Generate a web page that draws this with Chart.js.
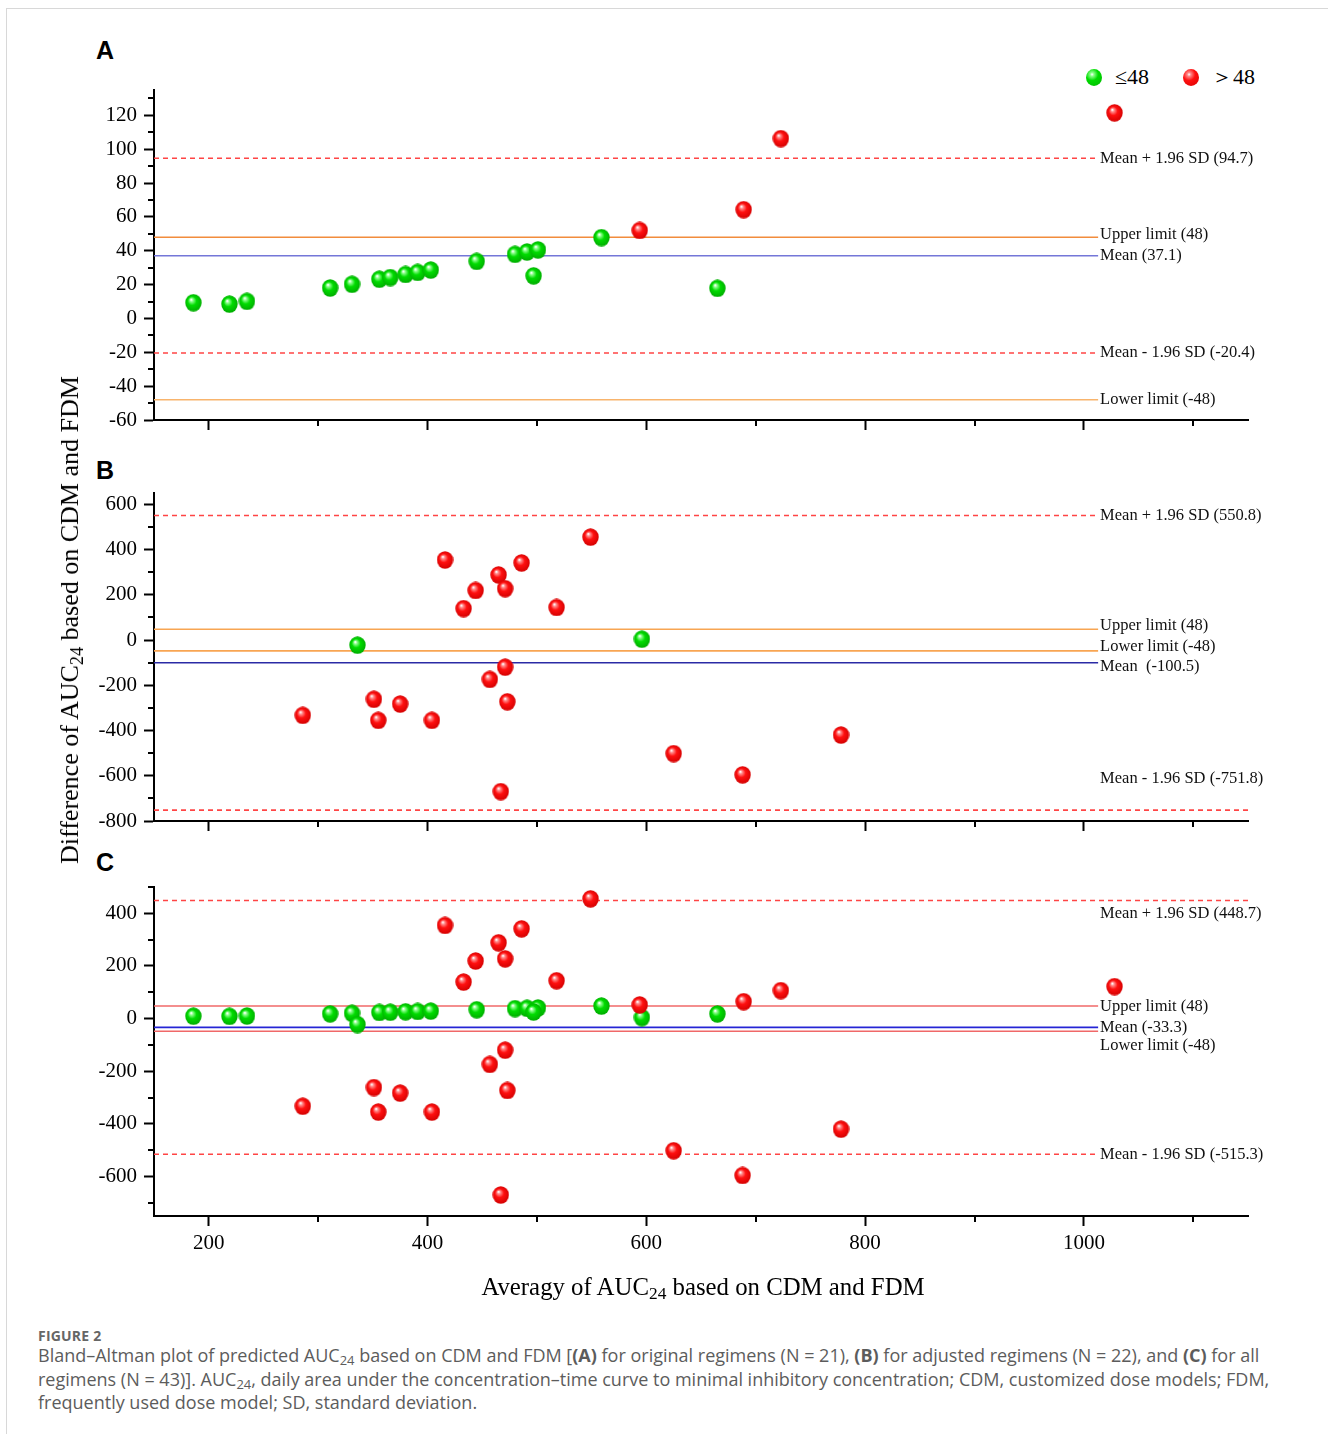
<!DOCTYPE html>
<html>
<head>
<meta charset="utf-8">
<script src="https://cdn.jsdelivr.net/npm/chart.js@4.4.1/dist/chart.umd.min.js"></script>
<style>
  body { margin: 0; background: #fff; }
  #page { position: relative; width: 1328px; height: 1434px; overflow: hidden; background: #fff; }
  #frame { position: absolute; left: 6px; top: 8px; width: 1330px; height: 1440px; border-top: 1px solid #d8d8d8; border-left: 1px solid #d8d8d8; }
  canvas { position: absolute; left: 0; }
  .tag { position: absolute; left: 96px; font: bold 25px/25px "Liberation Sans", Arial, sans-serif; color: #000; }
  .serif { font-family: "Liberation Serif", "Times New Roman", serif; color: #000; }
  #ytitle { position: absolute; left: 70px; top: 620px; transform: translate(-50%, -50%) rotate(-90deg); font-size: 26px; line-height: 30px; white-space: nowrap; }
  #xtitle { position: absolute; left: 703px; top: 1272px; transform: translateX(-50%); font-size: 24.8px; line-height: 30px; white-space: nowrap; }
  sub { font-size: 70%; vertical-align: -0.25em; line-height: 0; }
  .legend { position: absolute; top: 64px; font-size: 22px; line-height: 26px; white-space: nowrap; }
  .ball { position: absolute; width: 16px; height: 17px; border-radius: 50%; }
  .ball.g { background: radial-gradient(circle at 38% 32%, #fff 0, #8f8 12%, #00dc00 40%, #00b400 100%); }
  .ball.r { background: radial-gradient(circle at 38% 32%, #fff 0, #f88 12%, #ff1010 40%, #d80000 100%); }
  #cap-head { position: absolute; left: 38px; top: 1328px; font: 700 14px/16px "Open Sans", sans-serif; color: #666; letter-spacing: 0.2px; }
  #cap { position: absolute; left: 38px; top: 1344px; font: 18px/23.5px "Open Sans", sans-serif; color: #5c5c5c; white-space: nowrap; }
  #cap sub { font-size: 72%; }
</style>
</head>
<body>
<div id="page">
  <div id="frame"></div>
  <div class="tag" style="top:38px">A</div>
  <div class="tag" style="top:458px">B</div>
  <div class="tag" style="top:850px">C</div>

  <span class="ball g" style="left:1086px; top:69px"></span>
  <span class="legend serif" style="left:1115px">≤48</span>
  <span class="ball r" style="left:1183px; top:69px"></span>
  <span class="legend serif" style="left:1211px">＞48</span>

  <canvas id="chartA" width="1328" height="360" style="top:80px"></canvas>
  <canvas id="chartB" width="1328" height="360" style="top:480px"></canvas>
  <canvas id="chartC" width="1328" height="400" style="top:875px"></canvas>

  <div id="ytitle" class="serif">Difference of AUC<sub>24</sub> based on CDM and FDM</div>
  <div id="xtitle" class="serif">Averagy of AUC<sub>24</sub> based on CDM and FDM</div>

  <div id="cap-head">FIGURE 2</div>
  <div id="cap">Bland–Altman plot of predicted AUC<sub>24</sub> based on CDM and FDM [<b>(A)</b> for original regimens (N = 21), <b>(B)</b> for adjusted regimens (N = 22), and <b>(C)</b> for all<br>regimens (N = 43)]. AUC<sub>24</sub>, daily area under the concentration–time curve to minimal inhibitory concentration; CDM, customized dose models; FDM,<br>frequently used dose model; SD, standard deviation.</div>
</div>

<script>
// x axis (shared)
const X_MAJOR = [200, 400, 600, 800, 1000];
const X_MINOR = [300, 500, 700, 900, 1100];

// panel A: original regimens
const A_Y_MAJOR = [-60, -40, -20, 0, 20, 40, 60, 80, 100, 120];
const A_Y_MINOR = [-50, -30, -10, 10, 30, 50, 70, 90, 110, 130];
const A_GREEN = [[186, 9.3], [219, 8.5], [235, 10.1], [311, 18.0], [331, 20.2], [356, 23.2], [366, 24.2],
  [380, 26.0], [391, 27.2], [403, 28.6], [445, 33.7], [480, 37.9], [491, 39.3], [501, 40.5],
  [497, 25.2], [559, 47.8], [665, 17.8]];
const A_RED = [[594, 52.0], [689, 64.3], [723, 106.3], [1028, 121.5]];
const A_LINES = [94.7, 48, 37.1, -20.4, -48];
const A_LABELS = ['Mean + 1.96 SD (94.7)', 'Upper limit (48)', 'Mean (37.1)', 'Mean - 1.96 SD (-20.4)', 'Lower limit (-48)'];

// panel B: adjusted regimens
const B_Y_MAJOR = [-800, -600, -400, -200, 0, 200, 400, 600];
const B_Y_MINOR = [-700, -500, -300, -100, 100, 300, 500];
const B_GREEN = [[336, -22.6], [596, 3.9]];
const B_RED = [[286, -333], [351, -262], [355, -355], [375, -283], [404, -355], [416, 354], [433, 139],
  [444, 219], [465, 288], [471, 227], [486, 341], [471, -120], [457, -174], [473, -273],
  [467, -670], [518, 144], [549, 455], [625, -502], [688, -596], [778, -420]];
const B_LINES = [550.8, 48, -48, -100.5, -751.8];
const B_LABELS = ['Mean + 1.96 SD (550.8)', 'Upper limit (48)', 'Lower limit (-48)', 'Mean  (-100.5)', 'Mean - 1.96 SD (-751.8)'];

// panel C: all regimens
const C_Y_MAJOR = [-600, -400, -200, 0, 200, 400];
const C_Y_MINOR = [-700, -500, -300, -100, 100, 300, 500];
const C_GREEN = A_GREEN.concat(B_GREEN);
const C_RED = A_RED.concat(B_RED);
const C_LINES = [448.7, 48, -33.3, -48, -515.3];
const C_LABELS = ['Mean + 1.96 SD (448.7)', 'Upper limit (48)', 'Mean (-33.3)', 'Lower limit (-48)', 'Mean - 1.96 SD (-515.3)'];

const SERIF = '"Liberation Serif", "Times New Roman", serif';
const LINE_END = 1013;
const DASH_RED = '#ff4545';

function ball(hi, mid, edge) {
  const cv = document.createElement('canvas');
  cv.width = 17; cv.height = 18;
  const g = cv.getContext('2d');
  const grad = g.createRadialGradient(6.2, 5.8, 0.4, 8.5, 9, 9.2);
  grad.addColorStop(0, '#ffffff');
  grad.addColorStop(0.14, hi);
  grad.addColorStop(0.45, mid);
  grad.addColorStop(1, edge);
  g.fillStyle = grad;
  g.beginPath();
  g.ellipse(8.5, 9, 8.2, 8.7, 0, 0, Math.PI * 2);
  g.fill();
  return cv;
}
const GREEN_BALL = ball('#90ff90', '#00dc00', '#00a800');
const RED_BALL = ball('#ff9090', '#ff1010', '#d00000');

const minorTicks = {
  id: 'minorTicks',
  afterDraw(chart, args, opts) {
    const { ctx, chartArea: a, scales: { x, y } } = chart;
    ctx.save();
    ctx.strokeStyle = '#000';
    ctx.lineWidth = 2;
    ctx.beginPath();
    opts.x.forEach(v => {
      const p = Math.round(x.getPixelForValue(v));
      ctx.moveTo(p, a.bottom); ctx.lineTo(p, a.bottom + 6);
    });
    opts.y.forEach(v => {
      const p = Math.round(y.getPixelForValue(v));
      ctx.moveTo(a.left - 6, p); ctx.lineTo(a.left, p);
    });
    ctx.stroke();
    ctx.restore();
  }
};

const refLabels = {
  id: 'refLabels',
  afterDraw(chart, args, opts) {
    const { ctx, scales: { x, y } } = chart;
    ctx.save();
    ctx.font = '16.5px ' + SERIF;
    ctx.fillStyle = '#111';
    ctx.textBaseline = 'middle';
    const px = x.getPixelForValue(LINE_END) + 2;
    opts.values.forEach((v, i) => {
      ctx.fillText(opts.labels[i], px, y.getPixelForValue(v) + opts.dy[i]);
    });
    ctx.restore();
  }
};

function noPad(s) {
  s.paddingTop = 0; s.paddingBottom = 0; s.paddingLeft = 0; s.paddingRight = 0;
}

function makePanel(id, p) {
  const lines = p.lines.map((v, i) => ({
    type: 'line',
    data: [{ x: 150, y: v }, { x: p.full[i] ? 1150 : LINE_END, y: v }],
    borderColor: p.colors[i],
    borderWidth: 1.6,
    borderDash: p.dashed[i] ? [5, 4] : [],
    pointRadius: 0,
    fill: false,
    order: 2
  }));
  const pts = (arr) => arr.map(d => ({ x: d[0], y: d[1] }));
  new Chart(document.getElementById(id), {
    type: 'scatter',
    data: {
      datasets: lines.concat([
        { data: pts(p.green), pointStyle: GREEN_BALL, order: 1 },
        { data: pts(p.red), pointStyle: RED_BALL, order: 0 }
      ])
    },
    options: {
      responsive: false,
      animation: false,
      layout: { padding: { top: p.padTop, right: 80, left: 0, bottom: 0 } },
      plugins: {
        legend: { display: false },
        tooltip: { enabled: false },
        minorTicks: { x: X_MINOR, y: p.yMinor },
        refLabels: { values: p.lines, labels: p.labels, dy: p.dy }
      },
      scales: {
        x: {
          type: 'linear', min: 150, max: 1150,
          afterBuildTicks: s => { s.ticks = X_MAJOR.map(v => ({ value: v })); },
          afterFit: s => { s.height = p.xHeight; noPad(s); },
          ticks: { display: p.showX, color: '#000', font: { family: SERIF, size: 21 }, padding: 5, maxRotation: 0, callback: v => String(v) },
          grid: { drawOnChartArea: false, tickLength: 10, tickWidth: 2, tickColor: '#000' },
          border: { color: '#000', width: 2 }
        },
        y: {
          type: 'linear', min: p.yMin, max: p.yMax,
          afterBuildTicks: s => { s.ticks = p.yMajor.map(v => ({ value: v })); },
          afterFit: s => { s.width = 154; noPad(s); },
          ticks: { color: '#000', font: { family: SERIF, size: 21 }, padding: 7, callback: v => String(v) },
          grid: { drawOnChartArea: false, tickLength: 10, tickWidth: 2, tickColor: '#000' },
          border: { color: '#000', width: 2 }
        }
      }
    },
    plugins: [minorTicks, refLabels]
  });
}

makePanel('chartA', {
  green: A_GREEN, red: A_RED, yMin: -60, yMax: 135, yMajor: A_Y_MAJOR, yMinor: A_Y_MINOR,
  lines: A_LINES, labels: A_LABELS,
  colors: [DASH_RED, '#f28c3c', '#7477d8', DASH_RED, '#f8b46c'],
  dashed: [true, false, false, true, false],
  full: [false, false, false, false, false],
  dy: [0, -3, 0, 0, 0],
  padTop: 10, xHeight: 20, showX: false
});
makePanel('chartB', {
  green: B_GREEN, red: B_RED, yMin: -800, yMax: 650, yMajor: B_Y_MAJOR, yMinor: B_Y_MINOR,
  lines: B_LINES, labels: B_LABELS,
  colors: [DASH_RED, '#f8a552', '#f8a552', '#2b2ba5', DASH_RED],
  dashed: [true, false, false, false, true],
  full: [false, false, false, false, true],
  dy: [0, -4, -4, 4, -31],
  padTop: 13, xHeight: 19, showX: false
});
makePanel('chartC', {
  green: C_GREEN, red: C_RED, yMin: -750, yMax: 500, yMajor: C_Y_MAJOR, yMinor: C_Y_MINOR,
  lines: C_LINES, labels: C_LABELS,
  colors: [DASH_RED, '#f06868', '#2525d5', '#f06868', DASH_RED],
  dashed: [true, false, false, false, true],
  full: [true, false, false, false, false],
  dy: [13, 1, 0, 14, 0],
  padTop: 12, xHeight: 59, showX: true
});
</script>
</body>
</html>
